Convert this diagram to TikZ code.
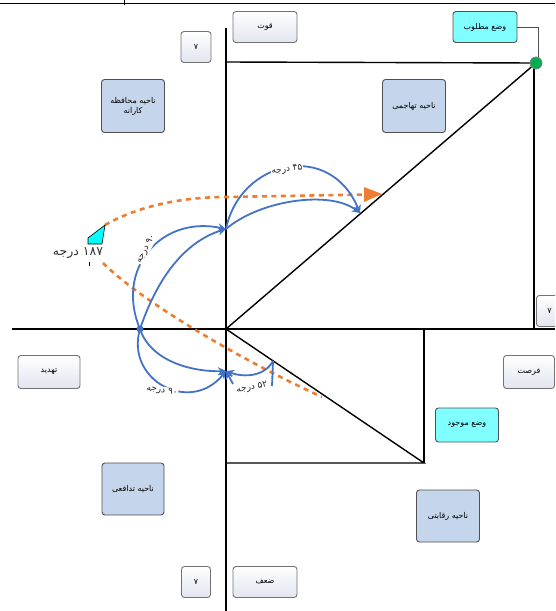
\documentclass[tikz,border=0pt]{standalone}
\usepackage{fontspec}
\newfontfamily\fa[Script=Arabic]{DejaVu Sans}
\TeXXeTstate=1
\usetikzlibrary{arrows.meta}
\definecolor{bluearc}{HTML}{4472C4}
\definecolor{orangearc}{HTML}{ED7D31}
\definecolor{boxblue}{HTML}{C5D5EC}
\definecolor{boxcyan}{HTML}{7FFFFF}
\definecolor{pointcyan}{HTML}{00FFFF}
\definecolor{boxedge}{HTML}{505050}
\definecolor{greendot}{HTML}{00B050}
\definecolor{shadebottom}{HTML}{E2E4F0}
\tikzset{
  whitebox/.style={draw=boxedge!80, line width=0.9pt, rounded corners=3pt, top color=white, bottom color=shadebottom, font=\fa\fontsize{8}{10}\selectfont, align=center, inner sep=1pt},
  bluebox/.style={draw=boxedge, line width=0.9pt, rounded corners=3pt, fill=boxblue, font=\fa\fontsize{8}{10}\selectfont, align=center, inner sep=1pt},
  cyanbox/.style={draw=boxedge, line width=0.9pt, rounded corners=3pt, fill=boxcyan, font=\fa\fontsize{8}{10}\selectfont, align=center, inner sep=1pt},
  axisline/.style={line width=2.4pt, black},
  thinline/.style={line width=1.4pt, black},
  arcline/.style={line width=1.8pt, bluearc},
  arctip/.style={arcline, -{Stealth[length=8pt,width=8pt]}},
  orangeline/.style={line width=2.6pt, orangearc, dash pattern=on 5pt off 4.5pt},
  deglabel/.style={font=\fa\fontsize{9}{10}\selectfont, fill=white, inner sep=0.5pt, text=black!85}
}
\begin{document}
\begin{tikzpicture}[x=1pt,y=-1pt]
\useasboundingbox (0,0) rectangle (555,611);
\clip (0,0) rectangle (555,611);
\fill[white] (0,0) rectangle (555,611);
% frame remnant
\draw[line width=1.3pt] (0,3.5) -- (555,3.5);
\draw[line width=1pt] (124,0) -- (124,5);
% key points
\coordinate (O) at (226,329);
\coordinate (A) at (536,63);
\coordinate (TL) at (226,62);
\coordinate (BR) at (424,463);
\coordinate (BL) at (226,463);
\coordinate (RB) at (424,329);
\coordinate (AX) at (534,329);
\coordinate (AT) at (534,62);
\coordinate (P1) at (226,229);
\coordinate (P2) at (140,329);
\coordinate (P3) at (226,371);
\coordinate (Q) at (360,213);
% axes
\draw[axisline] (226,28) -- (226,611);
\draw[axisline] (12,329) -- (555,329);
% upper triangle
\draw[thinline] (TL) -- (A);
\draw[line width=1.2pt] (AT) -- (AX);
\draw[thinline] (O) -- (A);
% lower triangle
\draw[thinline] (O) -- (BR) -- (BL);
\draw[thinline] (RB) -- (BR);
% boxes
\node[whitebox, minimum width=30pt, minimum height=31pt] (s1) at (196,47) {۷};
\node[whitebox, minimum width=64pt, minimum height=31pt] (qv) at (265,27) {\beginR قوت\endR};
\node[cyanbox, minimum width=64pt, minimum height=31pt] (mt) at (485,27) {\beginR وضع مطلوب\endR};
\node[bluebox, minimum width=63pt, minimum height=53pt] (mh) at (133,106) {\beginR ناحیه محافظه\endR\\\beginR کارانه\endR};
\node[bluebox, minimum width=63pt, minimum height=53pt] (th) at (414,106) {\beginR ناحیه تهاجمی\endR};
\node[whitebox, minimum width=62pt, minimum height=33pt] (td) at (49,372) {\beginR تهدید\endR};
\node[whitebox, minimum width=51pt, minimum height=33pt] (fr) at (529,372) {\beginR فرصت\endR};
\node[whitebox, minimum width=30pt, minimum height=31pt, anchor=west] (s2) at (536,311) {\hspace*{6pt}۷\hspace*{10pt}};
\node[cyanbox, minimum width=63pt, minimum height=34pt] (mj) at (467,425) {\beginR وضع موجود\endR};
\node[bluebox, minimum width=62pt, minimum height=52pt] (tf) at (133,489) {\beginR ناحیه تدافعی\endR};
\node[bluebox, minimum width=63pt, minimum height=52pt] (rq) at (448,516) {\beginR ناحیه رقابتی\endR};
\node[whitebox, minimum width=29pt, minimum height=31pt] (s3) at (196,582) {۷};
\node[whitebox, minimum width=64pt, minimum height=31pt] (zf) at (265,582) {\beginR ضعف\endR};
% connector to green dot
\draw[line width=0.8pt, boxedge] (mt.east) -- (538,27) -- (538,58);
\node[circle, fill=greendot, draw=gray, line width=0.8pt, minimum size=12pt, inner sep=0pt] (gd) at (A) {};
% orange dashed curves
\coordinate (C1) at (105,225);
\coordinate (C2) at (103,263);
\coordinate (OE) at (382,194);
\coordinate (OL) at (322,397);
\draw[orangeline] (C1) .. controls (140,205) and (185,197) .. (226,197) -- (366,194.5);
\fill[orangearc] (OE) -- (364,187) -- (364,202) -- cycle;
\draw[orangeline] (C2) .. controls (140,300) and (235,357) .. (OL);
% callout pointer
\draw[black, line width=0.6pt, fill=pointcyan] (C1) -- (88,238) -- (88,244) -- (102,244) -- cycle;
\draw[black, line width=0.8pt] (89,262) -- (89,266);
\node[font=\fa\fontsize{12.5}{14}\selectfont, text=black!80, inner sep=1pt] (l187) at (78,253) {\beginR ۱۸۷ درجه\endR};
% arc A (45)
\draw[arctip] (P1) .. controls (240,160) and (330,140) .. (Q);
\draw[arctip] (P1) .. controls (260,200) and (330,190) .. (Q);
\node[deglabel, rotate=8] (l45) at (287,170) {\beginR ۴۵ درجه\endR};
% arc B (90 upper)
\draw[arctip] (P2) .. controls (115,270) and (160,215) .. (P1);
\draw[arctip] (P2) .. controls (160,270) and (190,240) .. (P1);
\node[deglabel, rotate=62] (l90a) at (146,249) {\beginR ۹۰ درجه\endR};
% arc C (90 lower)
\draw[arctip] (P2) .. controls (125,380) and (190,415) .. (P3);
\draw[arctip] (P2) .. controls (150,360) and (190,372) .. (P3);
\node[deglabel, rotate=-10] (l90b) at (162,391) {\beginR ۹۰ درجه\endR};
% arc D (52)
\coordinate (D1) at (273,361);
\coordinate (D2) at (272,386);
\draw[arctip] (D1) .. controls (265,376) and (245,378) .. (P3);
\draw[arcline] (D1) -- (D2);
\draw[arctip] (233,384) -- (P3);
\node[deglabel, rotate=10] (l52) at (252,388) {\beginR ۵۲ درجه\endR};
\fill[bluearc] (P2) circle (3.5pt);
\end{tikzpicture}
\end{document}
